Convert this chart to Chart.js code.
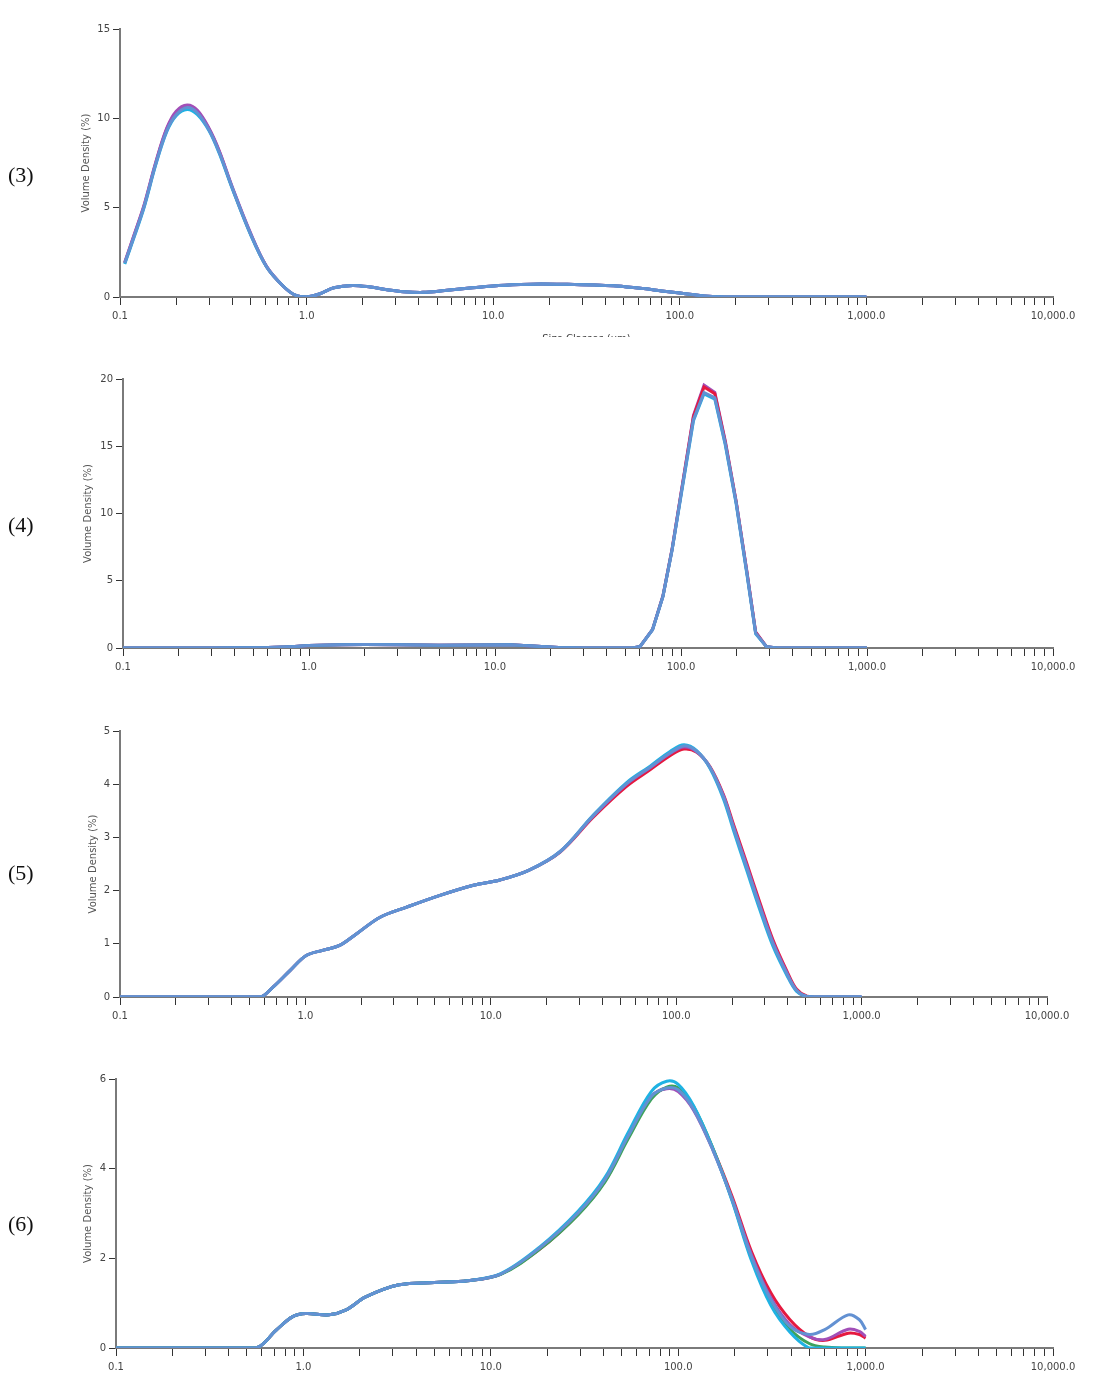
<!DOCTYPE html>
<html><head><meta charset="utf-8">
<script src="https://cdn.jsdelivr.net/npm/chart.js@4.4.0/dist/chart.umd.min.js"></script>
<style>
html,body{margin:0;padding:0;background:#fff;}
body{width:1109px;height:1399px;position:relative;overflow:hidden;}
.wrap{position:absolute;left:0;width:1109px;overflow:hidden;}
.wrap canvas{display:block;}
.lab{position:absolute;left:8px;font-family:"Liberation Serif","DejaVu Serif",serif;font-size:22px;line-height:22px;color:#111;}
</style></head><body>
<div class="wrap" style="top:0px;height:337px"><canvas id="c3" width="1109" height="360"></canvas></div>
<div class="wrap" style="top:345px;height:345px"><canvas id="c4" width="1109" height="345"></canvas></div>
<div class="wrap" style="top:700px;height:340px"><canvas id="c5" width="1109" height="340"></canvas></div>
<div class="wrap" style="top:1050px;height:349px"><canvas id="c6" width="1109" height="349"></canvas></div>
<div class="lab" style="top:164px">(3)</div>
<div class="lab" style="top:514px">(4)</div>
<div class="lab" style="top:862px">(5)</div>
<div class="lab" style="top:1213px">(6)</div>
<script>
// ---- axis ticks ----
const xMajorTicks = [0.1, 1, 10, 100, 1000, 10000];
const xTickLabels = ['0.1', '1.0', '10.0', '100.0', '1,000.0', '10,000.0'];
const xMinorMultipliers = [2, 3, 4, 5, 6, 7, 8, 9];
const yTitle = 'Volume Density (%)';
const xTitle = 'Size Classes (\u00b5m)';

// ---- panel (3) ----
const p3Sizes  = [0.106,0.12,0.135,0.155,0.178,0.2,0.229,0.26,0.3,0.34,0.4,0.5,0.61,0.75,0.87,1.0,1.18,1.4,1.77,2.2,2.7,3.3,4.2,5.5,7.5,10,14,18,25,35,46,64,80,100,120,142,177,250,400,600,1000];
const p3Blue   = [1.9,3.5,5.1,7.4,9.3,10.2,10.6,10.3,9.35,8.1,6.1,3.55,1.7,0.6,0.1,0,0.18,0.52,0.65,0.56,0.41,0.3,0.26,0.36,0.5,0.62,0.7,0.73,0.71,0.67,0.62,0.47,0.34,0.22,0.12,0.04,0,0,0,0,0];
const p3Cyan   = [1.85,3.45,5.05,7.35,9.25,10.15,10.5,10.2,9.3,8.05,6.05,3.5,1.68,0.6,0.1,0,0.18,0.52,0.65,0.56,0.41,0.3,0.26,0.36,0.5,0.62,0.7,0.73,0.71,0.67,0.62,0.47,0.34,0.22,0.12,0.04,0,0,0,0,0];
const p3Purple = [1.95,3.6,5.2,7.5,9.45,10.4,10.75,10.45,9.45,8.2,6.15,3.6,1.72,0.6,0.1,0,0.18,0.52,0.65,0.56,0.41,0.3,0.26,0.36,0.5,0.62,0.7,0.73,0.71,0.67,0.62,0.47,0.34,0.22,0.12,0.04,0,0,0,0,0];
const p3Red    = [1.9,3.55,5.15,7.45,9.4,10.3,10.7,10.4,9.4,8.15,6.1,3.55,1.7,0.6,0.1,0,0.18,0.52,0.65,0.56,0.41,0.3,0.26,0.36,0.5,0.62,0.7,0.73,0.71,0.67,0.62,0.47,0.34,0.22,0.12,0.04,0,0,0,0,0];

// ---- panel (4) ----
const p4Sizes  = [0.1,0.3,0.6,0.8,1.0,1.5,2.0,3.0,5.0,8.0,12,16,22,30,45,55,60.3,70.3,80,89.6,100,116.7,133,152,173,198,226,252,288,330,500,1000];
const p4Blue   = [0,0,0.03,0.1,0.18,0.24,0.26,0.24,0.2,0.22,0.24,0.15,0.03,0,0,0,0.12,1.36,3.84,7.3,11.4,17.0,19.0,18.6,15.2,10.8,5.6,1.1,0.1,0,0,0];
const p4Cyan   = [0,0,0.03,0.1,0.18,0.24,0.26,0.24,0.2,0.22,0.24,0.15,0.03,0,0,0,0.12,1.36,3.84,7.3,11.3,16.9,18.9,18.5,15.1,10.7,5.5,1.05,0.1,0,0,0];
const p4Purple = [0,0,0.03,0.1,0.18,0.24,0.26,0.24,0.2,0.22,0.24,0.15,0.03,0,0,0,0.12,1.38,3.9,7.4,11.5,17.3,19.55,19.0,15.4,10.9,5.7,1.2,0.1,0,0,0];
const p4Red    = [0,0,0.03,0.1,0.18,0.24,0.26,0.24,0.2,0.22,0.24,0.15,0.03,0,0,0,0.12,1.37,3.86,7.35,11.45,17.2,19.4,18.9,15.3,10.85,5.65,1.15,0.1,0,0,0];

// ---- panel (5) ----
const p5Sizes  = [0.1,0.3,0.569,0.671,0.828,1.01,1.25,1.53,1.89,2.53,3.52,5.32,8.06,11.2,16,23.6,35.7,54,72.3,93,110,129,152,180,203,240,283,333,395,445,505,600,1000];
const p5Blue   = [0,0,0,0.19,0.5,0.78,0.88,0.97,1.19,1.5,1.69,1.91,2.1,2.2,2.38,2.73,3.41,4.01,4.32,4.59,4.72,4.62,4.32,3.76,3.2,2.44,1.69,1.0,0.44,0.125,0.01,0,0];
const p5Cyan   = [0,0,0,0.19,0.5,0.78,0.88,0.97,1.19,1.5,1.69,1.91,2.1,2.2,2.38,2.73,3.42,4.03,4.34,4.62,4.74,4.63,4.3,3.72,3.15,2.38,1.63,0.95,0.41,0.11,0.01,0,0];
const p5Purple = [0,0,0,0.19,0.5,0.78,0.88,0.97,1.19,1.5,1.69,1.91,2.1,2.2,2.38,2.73,3.4,4.0,4.31,4.58,4.7,4.61,4.32,3.78,3.22,2.47,1.72,1.03,0.46,0.13,0.01,0,0];
const p5Red    = [0,0,0,0.19,0.5,0.78,0.88,0.97,1.19,1.5,1.69,1.91,2.1,2.2,2.38,2.72,3.38,3.96,4.27,4.54,4.66,4.6,4.33,3.8,3.26,2.52,1.77,1.07,0.49,0.15,0.02,0,0];

// ---- panel (6) ----
const p6Sizes  = [0.1,0.3,0.56,0.716,0.877,1.03,1.37,1.69,2.15,3.24,5.0,7.5,11.3,18.2,29.2,40.6,54,71.8,86.8,100,121,153,194,246,312,395,500,605,808,927,1000];
const p6Blue   = [0,0,0,0.40,0.70,0.77,0.74,0.85,1.14,1.41,1.46,1.5,1.65,2.23,3.01,3.75,4.72,5.61,5.8,5.76,5.32,4.42,3.31,2.04,1.08,0.48,0.30,0.41,0.74,0.63,0.41];
const p6Cyan   = [0,0,0,0.40,0.70,0.77,0.74,0.85,1.14,1.41,1.46,1.5,1.66,2.25,3.05,3.8,4.8,5.72,5.95,5.88,5.4,4.45,3.28,1.95,0.95,0.35,0.0,0,0,0,0];
const p6Green  = [0,0,0,0.40,0.70,0.77,0.74,0.85,1.14,1.41,1.46,1.5,1.64,2.2,2.97,3.7,4.66,5.55,5.82,5.8,5.38,4.46,3.3,2.0,1.03,0.42,0.1,0.02,0,0,0];
const p6Purple = [0,0,0,0.40,0.70,0.77,0.74,0.85,1.14,1.41,1.46,1.5,1.65,2.22,3.0,3.74,4.72,5.62,5.78,5.72,5.3,4.42,3.33,2.08,1.12,0.52,0.25,0.19,0.42,0.37,0.26];
const p6Red    = [0,0,0,0.40,0.70,0.77,0.74,0.85,1.14,1.41,1.46,1.5,1.65,2.2,2.98,3.72,4.7,5.6,5.8,5.75,5.33,4.45,3.38,2.15,1.23,0.63,0.26,0.17,0.33,0.30,0.22];

const COL = {blue:'#6391d2', cyan:'#1fb2e3', green:'#3ea35b', purple:'#a24fb8', red:'#e5193f'};
const FONT = '"DejaVu Sans", "Liberation Sans", sans-serif';

function allXTicks() {
  const t = [];
  xMajorTicks.forEach((m, i) => {
    t.push(m);
    if (i < xMajorTicks.length - 1) xMinorMultipliers.forEach(k => t.push(+(m * k).toPrecision(6)));
  });
  return t;
}
function xLabel(v) {
  const i = xMajorTicks.findIndex(m => Math.abs(Math.log10(m) - Math.log10(v)) < 1e-6);
  return i >= 0 ? xTickLabels[i] : '';
}

function makeChart(id, p) {
  const datasets = p.series.map(s => ({
    data: p.sizes.map((x, i) => ({x: x, y: s.data[i]})),
    borderColor: s.color,
    borderWidth: 3,
    pointRadius: 0,
    fill: false,
    tension: p.tension,
    cubicInterpolationMode: 'default'
  }));
  new Chart(document.getElementById(id), {
    type: 'line',
    data: {datasets: datasets},
    options: {
      responsive: false, animation: false, devicePixelRatio: 1,
      layout: {padding: {left: p.padLeft, top: p.padTop, right: p.padRight, bottom: 0}},
      plugins: {legend: {display: false}, tooltip: {enabled: false}},
      scales: {
        x: {
          type: 'logarithmic', min: 0.1, max: 10000,
          afterBuildTicks: s => { s.ticks = allXTicks().map(v => ({value: v})); },
          ticks: {autoSkip: false, maxRotation: 0, minRotation: 0, padding: 5, color: '#444',
                  font: {family: FONT, size: 10}, callback: v => xLabel(v)},
          grid: {drawOnChartArea: false, drawTicks: true, tickLength: 8, color: '#333', lineWidth: 1},
          border: {display: true, color: '#7a7a7a', width: 2},
          title: {display: !!p.xTitle, text: xTitle, color: '#444', font: {family: FONT, size: 10}, padding: {top: 0, bottom: 15}},
          afterFit: s => { s.height = p.xHeight; s.paddingLeft = 0; s.paddingRight = 0; }
        },
        y: {
          type: 'linear', min: 0, max: p.yMax,
          ticks: {stepSize: p.yStep, padding: 3, color: '#444', font: {family: FONT, size: 10}},
          grid: {drawOnChartArea: false, drawTicks: true, tickLength: 7, color: '#333', lineWidth: 1},
          border: {display: true, color: '#7a7a7a', width: 2},
          title: {display: true, text: yTitle, color: '#555', font: {family: FONT, size: 10}, padding: 0},
          afterFit: s => { s.width = p.yWidth; s.paddingTop = 0; s.paddingBottom = 0; }
        }
      }
    }
  });
}

makeChart('c3', {sizes: p3Sizes, yMax: 15, yStep: 5, padLeft: 80, yWidth: 40, padTop: 29, padRight: 56, xHeight: 63, xTitle: true, tension: 0.35,
  series: [{data: p3Blue, color: COL.blue}, {data: p3Cyan, color: COL.cyan}, {data: p3Purple, color: COL.purple}, {data: p3Red, color: COL.red}]});
makeChart('c4', {sizes: p4Sizes, yMax: 20, yStep: 5, padLeft: 82, yWidth: 41, padTop: 34, padRight: 56, xHeight: 42, xTitle: false, tension: 0,
  series: [{data: p4Blue, color: COL.blue}, {data: p4Cyan, color: COL.cyan}, {data: p4Red, color: COL.red}, {data: p4Purple, color: COL.purple}]});
makeChart('c5', {sizes: p5Sizes, yMax: 5, yStep: 1, padLeft: 87, yWidth: 33, padTop: 31, padRight: 62, xHeight: 43, xTitle: false, tension: 0.35,
  series: [{data: p5Blue, color: COL.blue}, {data: p5Cyan, color: COL.cyan}, {data: p5Purple, color: COL.purple}, {data: p5Red, color: COL.red}]});
makeChart('c6', {sizes: p6Sizes, yMax: 6, yStep: 2, padLeft: 82, yWidth: 34, padTop: 29, padRight: 56, xHeight: 51, xTitle: false, tension: 0.35,
  series: [{data: p6Blue, color: COL.blue}, {data: p6Cyan, color: COL.cyan}, {data: p6Green, color: COL.green}, {data: p6Purple, color: COL.purple}, {data: p6Red, color: COL.red}]});
</script>
</body></html>
